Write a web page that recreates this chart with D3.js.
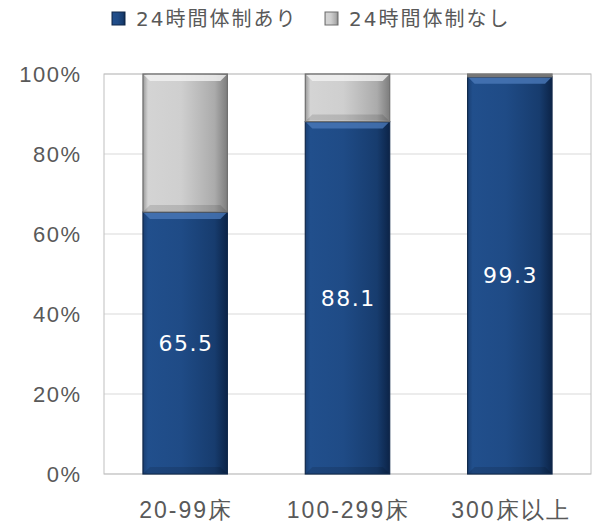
<!DOCTYPE html>
<html><head><meta charset="utf-8">
<script src="https://cdn.jsdelivr.net/npm/d3@7"></script>
<style>body{margin:0;background:#fff;}svg{display:block;font-family:"DejaVu Sans","Noto Sans CJK JP",sans-serif;}</style>
</head><body>
<script>
const categories = ["20-99床", "100-299床", "300床以上"];
const seriesNames = ["24時間体制あり", "24時間体制なし"];
const withSystem = [65.5, 88.1, 99.3];
const withoutSystem = [34.5, 11.9, 0.7];
const yTicks = [0, 20, 40, 60, 80, 100];

const W = 594, H = 524;
const m = {left: 104, right: 3, top: 74, bottom: 48};
const svg = d3.select("body").append("svg").attr("width", W).attr("height", H);
const defs = svg.append("defs");

function grad(id, stops) {
  const g = defs.append("linearGradient").attr("id", id).attr("x1", 0).attr("x2", 1).attr("y1", 0).attr("y2", 0);
  stops.forEach(s => g.append("stop").attr("offset", s[0]).attr("stop-color", s[1]));
}
grad("gBlue", [[0, "#1a3f73"], [0.06, "#214f8c"], [0.45, "#1f4b86"], [0.85, "#173c6e"], [1, "#0c2448"]]);
grad("gGray", [[0, "#9a9a9a"], [0.06, "#d4d4d4"], [0.45, "#cfcfcf"], [0.85, "#ababab"], [1, "#7d7d7d"]]);

const x = d3.scaleBand().domain(categories).range([m.left, W - m.right]).paddingInner(0.48).paddingOuter(0.24);
const y = d3.scaleLinear().domain([0, 100]).range([H - m.bottom - 2, m.top]);

// gridlines
svg.append("g").selectAll("line").data(yTicks).join("line")
  .attr("x1", m.left).attr("x2", W - m.right)
  .attr("y1", d => y(d)).attr("y2", d => y(d))
  .attr("stroke", "#d9d9d9").attr("stroke-width", 1);
// plot border
svg.append("rect").attr("x", m.left).attr("y", y(100)).attr("width", W - m.right - m.left).attr("height", y(0) - y(100))
  .attr("fill", "none").attr("stroke", "#bfbfbf").attr("stroke-width", 1);

// y axis
const yAxis = d3.axisLeft(y).tickValues(yTicks).tickFormat(d => d + "%").tickSize(0).tickPadding(22.5);
const ga = svg.append("g").attr("transform", `translate(${m.left},0)`).call(yAxis);
ga.select(".domain").remove();
ga.selectAll("text").attr("fill", "#595959").style("font-size", "22px").style("letter-spacing", "1.5px");

// x axis
const xAxis = d3.axisBottom(x).tickSize(0).tickPadding(28);
const gx = svg.append("g").attr("transform", `translate(0,${y(0)})`).call(xAxis);
gx.select(".domain").remove();
gx.selectAll("text").attr("fill", "#595959").style("font-size", "23px").style("letter-spacing", "2px").attr("dx", "1px");

const stacks = categories.map((c, i) => ({c, a: withSystem[i], b: withoutSystem[i]}));

function bevelBar(g, x0, y0, w, h, fillId, stroke, topCol) {
  g.append("rect").attr("x", x0).attr("y", y0).attr("width", w).attr("height", h).attr("fill", `url(#${fillId})`).attr("stroke", stroke).attr("stroke-width", 1.2);
  if (h > 8) {
    const bv = 7;
    g.append("path").attr("d", `M${x0+1},${y0+1} L${x0+w-1},${y0+1} L${x0+w-bv},${y0+bv} L${x0+bv},${y0+bv} Z`).attr("fill", topCol).attr("opacity", 0.8);
    g.append("path").attr("d", `M${x0+1},${y0+h-1} L${x0+w-1},${y0+h-1} L${x0+w-bv},${y0+h-bv} L${x0+bv},${y0+h-bv} Z`).attr("fill", "#000").attr("opacity", 0.12);
  } else {
    g.append("rect").attr("x", x0).attr("y", y0).attr("width", w).attr("height", h).attr("fill", "#777");
  }
}

const bars = svg.append("g");
stacks.forEach(d => {
  const g = bars.append("g");
  const xx = x(d.c), w = x.bandwidth();
  bevelBar(g, xx, y(d.a), w, y(0) - y(d.a), "gBlue", "#10284a", "#4a78b8");
  bevelBar(g, xx, y(d.a + d.b), w, y(d.a) - y(d.a + d.b), "gGray", "#6e6e6e", "#f2f2f2");
  g.append("text").attr("x", xx + w / 2 + 0.75).attr("y", (y(0) + y(d.a)) / 2).attr("dy", "0.36em")
    .attr("text-anchor", "middle").attr("fill", "#fff").style("font-size", "22px").style("letter-spacing", "1.5px")
    .text(d.a.toFixed(1));
});

// legend
const legend = svg.append("g");
const lx = [112, 325];
seriesNames.forEach((s, i) => {
  const g = legend.append("g").attr("transform", `translate(${lx[i]},12)`);
  g.append("rect").attr("width", 13).attr("height", 13).attr("fill", i === 0 ? "url(#gBlue)" : "url(#gGray)").attr("stroke", i === 0 ? "#10284a" : "#6e6e6e");
  g.append("text").attr("x", 24).attr("y", 6.5).attr("dy", "0.36em").attr("fill", "#595959").style("font-size", "20px").style("letter-spacing", "2px").text(s);
});
</script>
</body></html>
